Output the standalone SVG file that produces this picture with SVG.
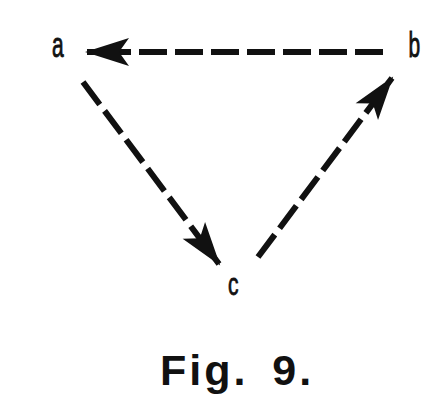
<svg xmlns="http://www.w3.org/2000/svg" width="440" height="416" viewBox="0 0 440 416">
<style>
.edge{fill:none;stroke:#111;stroke-width:6;stroke-dasharray:28 8}
.lbl{font-family:"Liberation Sans",Arial,sans-serif;font-size:35px;fill:#111;stroke:#111;stroke-width:0.9}
.cap{font-family:"Liberation Sans",Arial,sans-serif;font-size:43px;font-weight:bold;fill:#111;letter-spacing:3px;word-spacing:9px}
</style>
<defs>
<marker id="ah" markerUnits="userSpaceOnUse" markerWidth="60" markerHeight="40" viewBox="-46 -20 50 40" refX="0" refY="0" orient="auto">
<path d="M2,0 L-42,-14 L-32,0 L-42,14 Z" fill="#111"/>
</marker>
</defs>
<rect width="440" height="416" fill="#fff"/>
<g id="connectors">
<path class="edge" d="M383,52 L87,52" marker-end="url(#ah)"/>
<path class="edge" d="M83,82 L219,264" marker-end="url(#ah)"/>
<path class="edge" d="M258,257 L392,78" marker-end="url(#ah)"/>
</g>
<g id="node-a"><text class="lbl" transform="translate(52,57) scale(0.6,1)">a</text></g>
<g id="node-b"><text class="lbl" transform="translate(408.5,57) scale(0.6,1)">b</text></g>
<g id="node-c"><text class="lbl" transform="translate(228,295) scale(0.6,0.9)">c</text></g>
<g id="caption"><text class="cap" x="160" y="385">Fig. 9.</text></g>
</svg>
